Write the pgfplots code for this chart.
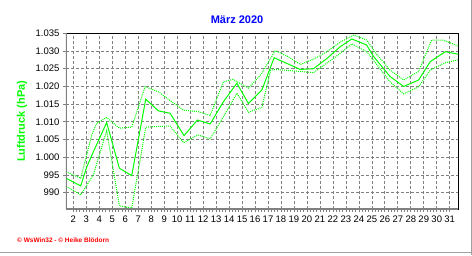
\documentclass[border=0pt]{standalone}
\usepackage{pgfplots}
\pgfplotsset{compat=1.18}
\usepackage{fontspec}
\setmainfont{Liberation Sans}
\definecolor{lgreen}{RGB}{0,255,0}
\definecolor{tblue}{RGB}{0,0,255}
\definecolor{fred}{RGB}{255,0,0}
\definecolor{gridgray}{RGB}{128,128,128}
\definecolor{framegray}{RGB}{160,160,160}
\begin{document}
\begin{tikzpicture}
\begin{axis}[
  scale only axis, width=392.3pt, height=176pt,
  xmin=1.437, xmax=31.66, ymin=985.3, ymax=1035,
  xtick={2,...,31}, ytick={990,995,...,1035},
  minor x tick num=3,
  scaled y ticks=false,
  grid=major,
  major grid style={gridgray, dash pattern=on 3pt off 2pt, line width=0.7pt},
  tick align=outside, tick pos=left,
  major tick length=3pt, minor tick length=2.5pt,
  every tick/.style={gridgray, line width=0.7pt},
  axis line style={black, line width=0.9pt},
  ticklabel style={font=\fontsize{9.5}{11}\selectfont},
  /pgf/number format/assume math mode=true,
  yticklabel style={/pgf/number format/.cd, fixed, precision=0, 1000 sep={.}},
  xticklabel style={/pgf/number format/.cd, fixed, precision=0, 1000 sep={}},
  ylabel={Luftdruck (hPa)},
  every axis y label/.style={at={(axis description cs:-0.112,0.5)}, rotate=90, anchor=center,
     font=\fontsize{11}{13}\selectfont\bfseries, text=lgreen},
  every axis title/.style={at={(axis description cs:0.436,1.057)}, anchor=base,
     font=\fontsize{11}{13}\selectfont\bfseries, text=tblue, inner sep=0pt},
  title={März 2020},
]
% maximum
\addplot[lgreen, line width=1pt, dash pattern=on 1pt off 1pt] coordinates {
(1.437,995.9) (2.57,994.1) (3.42,1006.3) (3.8,1009.6) (4.57,1011.2) (5.55,1008.2)
(6.5,1008.5) (7.53,1019.9) (8.55,1018.5) (9.46,1016.0) (10.5,1013.3) (11.6,1012.9)
(12.54,1011.8) (13.57,1021.3) (14.3,1022.0) (15.5,1019.5) (16.53,1023.7) (17.55,1030.1)
(18.5,1028.5) (19.5,1026.2) (20.5,1027.7) (21.54,1029.8) (22.56,1032.5) (23.6,1034.5)
(24.6,1033.1) (25.3,1029.4) (26.4,1024.6) (27.45,1021.8) (28.6,1024.2) (29.6,1033.1)
(30.5,1033.1) (31.66,1031.4)
};
% minimum
\addplot[lgreen, line width=1pt, dash pattern=on 1pt off 1pt] coordinates {
(1.437,991.9) (2.57,989.4) (3.54,995.0) (4.57,1007.5) (5.55,986.3) (6.5,985.6)
(7.58,1008.5) (8.5,1008.7) (9.46,1008.8) (10.5,1004.1) (11.6,1006.3) (12.54,1005.2)
(13.57,1011.5) (14.6,1018.1) (15.5,1012.7) (16.53,1014.1) (17.2,1024.6) (17.55,1024.8)
(19.5,1024.2) (20.5,1023.9) (22.3,1028.6) (23.46,1032.0) (24.6,1029.8) (25.1,1027.5)
(26.4,1021.3) (27.45,1017.9) (28.6,1019.9) (29.5,1024.6) (30.66,1026.7) (31.66,1027.5)
};
% mean
\addplot[lgreen, line width=1pt] coordinates {
(1.437,994.1) (2.57,991.9) (3.03,997.2) (3.54,1001.5) (4.57,1009.8) (5.55,996.9)
(6.5,994.8) (7.58,1016.4) (8.55,1013.1) (9.46,1012.4) (10.53,1006.1) (11.56,1010.5)
(12.54,1009.4) (13.57,1015.7) (14.6,1020.9) (15.49,1015.2) (16.53,1019.0) (17.47,1028.1)
(18.45,1026.5) (19.48,1024.8) (20.5,1025.0) (21.54,1027.9) (22.56,1031.2) (23.46,1033.4)
(24.6,1031.7) (25.1,1028.6) (26.4,1022.8) (27.45,1020.0) (28.6,1021.8) (29.5,1027.0)
(30.66,1029.8) (31.66,1029.1)
};
\draw[gridgray, line width=2pt] (rel axis cs:0,0) -- (rel axis cs:0,1);
\draw[gridgray, line width=2pt] (rel axis cs:0,0) -- (rel axis cs:1,0);
\coordinate (O) at (rel axis cs:0,0);
\end{axis}
\pgfresetboundingbox
\path[use as bounding box] ([shift={(-66pt,-45.7pt)}]O) rectangle ([shift={(406pt,209.3pt)}]O);
\node[anchor=west, font=\fontsize{6.5}{8}\selectfont\bfseries, text=fred, inner sep=0pt]
  at ([shift={(-49pt,-30.7pt)}]O) {© WsWin32 - © Heike Blödorn};
\draw[framegray, line width=1pt] ([shift={(405pt,-45.7pt)}]O) -- ([shift={(405pt,209.3pt)}]O);
\draw[framegray, line width=1pt] ([shift={(-66pt,-43.4pt)}]O) -- ([shift={(406pt,-43.4pt)}]O);
\end{tikzpicture}
\end{document}
